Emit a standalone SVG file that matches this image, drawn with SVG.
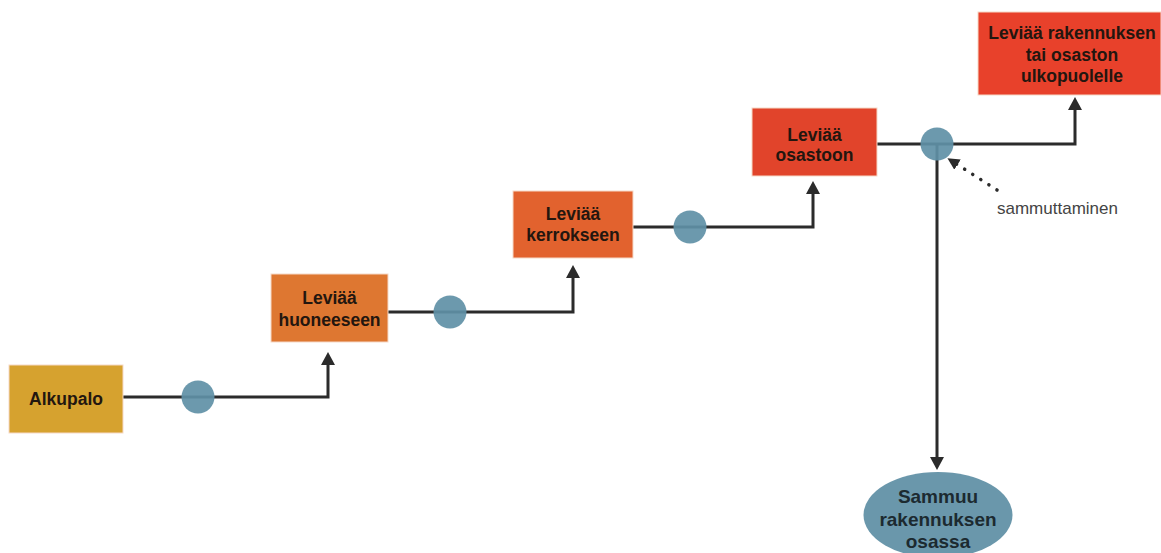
<svg xmlns="http://www.w3.org/2000/svg" width="1161" height="553" viewBox="0 0 1161 553">
<defs>
<marker id="ah" markerUnits="userSpaceOnUse" markerWidth="13" markerHeight="14" viewBox="0 0 13 14" refX="4" refY="7" orient="auto">
<path d="M0,0 L13,7 L0,14 z" fill="#2b2b2b"/>
</marker>
<marker id="ah2" markerUnits="userSpaceOnUse" markerWidth="12" markerHeight="12" viewBox="0 0 12 12" refX="3" refY="6" orient="auto">
<path d="M0,0 L12,6 L0,12 z" fill="#2b2b2b"/>
</marker>
</defs>
<style>
.box{stroke:#f6d9c8;stroke-width:1}
.lbl{font-family:"Liberation Sans",Arial,sans-serif;font-weight:bold;font-size:17.5px;fill:#23160f;text-anchor:middle}
.elbl{font-family:"Liberation Sans",Arial,sans-serif;font-weight:bold;font-size:19px;fill:#1c2a30;text-anchor:middle}
.conn{fill:none;stroke:#2b2b2b;stroke-width:3}
.dot{fill:#5f90a6;fill-opacity:0.92}
.note{font-family:"Liberation Sans",Arial,sans-serif;font-size:17px;fill:#444}
</style>
<rect width="1161" height="553" fill="#ffffff"/>
<g id="connectors">
<path class="conn" d="M123,397 H328 V361" marker-end="url(#ah)"/>
<path class="conn" d="M388,312 H573 V274" marker-end="url(#ah)"/>
<path class="conn" d="M633,227 H813 V190" marker-end="url(#ah)"/>
<path class="conn" d="M877,144 H1075 V106" marker-end="url(#ah)"/>
<path class="conn" d="M937,144 V461" marker-end="url(#ah)"/>
<path fill="none" stroke="#2b2b2b" stroke-width="3.5" stroke-linecap="round" stroke-dasharray="0.1 9.5" d="M997,190 L955,163" marker-end="url(#ah2)"/>
</g>
<g id="decision-points">
<circle class="dot" cx="198" cy="397" r="16.5"/>
<circle class="dot" cx="450" cy="312" r="16.5"/>
<circle class="dot" cx="690" cy="227" r="16.5"/>
<circle class="dot" cx="937" cy="144" r="16.5"/>
</g>
<g id="alkupalo">
<rect class="box" x="9" y="365" width="114" height="68" fill="#d6a22f"/>
<text class="lbl" x="66" y="405">Alkupalo</text>
</g>
<g id="huoneeseen">
<rect class="box" x="271" y="274" width="117" height="68" fill="#de7731"/>
<text class="lbl" x="329.5" y="304">Leviää</text>
<text class="lbl" x="329.5" y="326">huoneeseen</text>
</g>
<g id="kerrokseen">
<rect class="box" x="513" y="191" width="120" height="67" fill="#e2622e"/>
<text class="lbl" x="573" y="220">Leviää</text>
<text class="lbl" x="573" y="241">kerrokseen</text>
</g>
<g id="osastoon">
<rect class="box" x="752" y="108" width="125" height="68" fill="#e1442b"/>
<text class="lbl" x="814.5" y="141">Leviää</text>
<text class="lbl" x="814.5" y="161">osastoon</text>
</g>
<g id="ulkopuolelle">
<rect class="box" x="978" y="12" width="183" height="83" fill="#e8412b"/>
<text class="lbl" x="1072" y="39">Leviää rakennuksen</text>
<text class="lbl" x="1072" y="61">tai osaston</text>
<text class="lbl" x="1072" y="82">ulkopuolelle</text>
</g>
<g id="sammuu">
<ellipse cx="938" cy="515" rx="74.5" ry="43" fill="#6a97ab"/>
<text class="elbl" x="938" y="503">Sammuu</text>
<text class="elbl" x="938" y="526">rakennuksen</text>
<text class="elbl" x="938" y="548">osassa</text>
</g>
<g id="sammuttaminen">
<text class="note" x="997" y="214">sammuttaminen</text>
</g>
</svg>
